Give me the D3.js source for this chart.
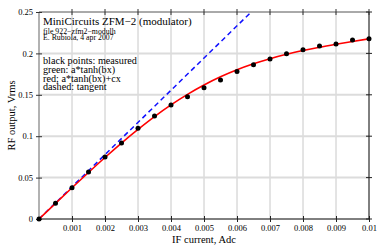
<!DOCTYPE html>
<html>
<head>
<meta charset="utf-8">
<script src="https://cdn.jsdelivr.net/npm/d3@7"></script>
<style>
  body { margin: 0; background: #fff; }
  text { font-family: "Liberation Serif", "DejaVu Serif", serif; fill: #000; }
</style>
</head>
<body>
<div class="chart"></div>
<script>
// measured points (IF current in A, RF output in Vrms)
var currentA = [0, 0.0005, 0.001, 0.0015, 0.002, 0.0025, 0.003, 0.0035, 0.004, 0.0045, 0.005,
  0.0055, 0.006, 0.0065, 0.007, 0.0075, 0.008, 0.0085, 0.009, 0.0095, 0.01];
var measured = [0, 0.019, 0.0378, 0.0568, 0.0749, 0.0918, 0.1095, 0.1244, 0.1377, 0.1477, 0.1586,
  0.1679, 0.1781, 0.1864, 0.1932, 0.1997, 0.2045, 0.2089, 0.2113, 0.2162, 0.2178];
// red fitted curve
var fitRed = [0, 0.0189, 0.0377, 0.0562, 0.0743, 0.0917, 0.1082, 0.1237, 0.1378, 0.1505, 0.1618,
  0.1717, 0.1802, 0.1874, 0.1936, 0.1989, 0.2034, 0.2074, 0.2110, 0.2144, 0.2176];
// dashed tangent at origin
var tangentX = [0, 0.00643];
var tangentY = [0, 0.25];

var xTicks = [0.001, 0.002, 0.003, 0.004, 0.005, 0.006, 0.007, 0.008, 0.009, 0.01];
var xTickLabels = ["0.001", "0.002", "0.003", "0.004", "0.005", "0.006", "0.007", "0.008", "0.009", "0.01"];
var yTicks = [0, 0.05, 0.1, 0.15, 0.2, 0.25];
var yTickLabels = ["0", "0.05", "0.1", "0.15", "0.2", "0.25"];

var titleLines = ["MiniCircuits ZFM\u22122 (modulator)", "file 922\u2212zfm2\u2212modulh", "E. Rubiola, 4 apr 2007"];
var noteLines = ["black points: measured", "green: a*tanh(bx)", "red; a*tanh(bx)+cx", "dashed: tangent"];

var svgWidth = 378;
var svgHeight = 252;
var margin = { top: 12, right: 9, bottom: 33, left: 39 };
var width = svgWidth - margin.left - margin.right;
var height = svgHeight - margin.top - margin.bottom;

var svg = d3.select(".chart").append("svg")
  .attr("width", svgWidth)
  .attr("height", svgHeight);

var chartGroup = svg.append("g")
  .attr("transform", `translate(${margin.left}, ${margin.top})`);

var x = d3.scaleLinear().domain([0, 0.01]).range([0, width]);
var y = d3.scaleLinear().domain([0, 0.25]).range([height, 0]);

// grid
chartGroup.selectAll(".vgrid").data(xTicks.slice(0, -1)).enter().append("line")
  .attr("x1", d => x(d)).attr("x2", d => x(d))
  .attr("y1", 0).attr("y2", height)
  .attr("stroke", "#c8c8c8").attr("stroke-width", 1);
chartGroup.selectAll(".hgrid").data(yTicks.slice(1, -1)).enter().append("line")
  .attr("x1", 0).attr("x2", width)
  .attr("y1", d => y(d)).attr("y2", d => y(d))
  .attr("stroke", "#dcdcdc").attr("stroke-width", 2);

// frame
chartGroup.append("line").attr("x1", 0).attr("x2", width).attr("y1", 0).attr("y2", 0)
  .attr("stroke", "#555").attr("stroke-width", 1);
chartGroup.append("line").attr("x1", 0).attr("x2", 0).attr("y1", 0).attr("y2", height)
  .attr("stroke", "#999").attr("stroke-width", 1.5);
chartGroup.append("line").attr("x1", 0).attr("x2", width).attr("y1", height).attr("y2", height)
  .attr("stroke", "#000").attr("stroke-width", 1);
chartGroup.append("line").attr("x1", width).attr("x2", width).attr("y1", 0).attr("y2", height)
  .attr("stroke", "#000").attr("stroke-width", 1);

// ticks on all four sides
var bottomAxis = d3.axisBottom(x).tickValues(xTicks)
  .tickFormat((d, i) => xTickLabels[i]).tickSizeInner(3).tickSizeOuter(0).tickPadding(3);
var bAxis = chartGroup.append("g").attr("transform", `translate(0, ${height})`).call(bottomAxis);
bAxis.select(".domain").remove();
bAxis.selectAll(".tick line").attr("y1", -3).attr("stroke", "#222");
bAxis.selectAll("text").style("font-size", "8.5px").style("font-family", "Liberation Serif, serif");

chartGroup.selectAll(".ttick").data(xTicks).enter().append("line")
  .attr("x1", d => x(d)).attr("x2", d => x(d)).attr("y1", -3).attr("y2", 3)
  .attr("stroke", "#333");

var leftAxis = d3.axisLeft(y).tickValues(yTicks)
  .tickFormat((d, i) => yTickLabels[i]).tickSizeInner(3).tickSizeOuter(0).tickPadding(3);
var lAxis = chartGroup.append("g").call(leftAxis);
lAxis.select(".domain").remove();
lAxis.selectAll(".tick line").attr("x1", 3).attr("stroke", "#333");
lAxis.selectAll("text").style("font-size", "8.5px").style("font-family", "Liberation Serif, serif");

chartGroup.selectAll(".rtick").data(yTicks).enter().append("line")
  .attr("x1", width - 3).attr("x2", width + 3).attr("y1", d => y(d)).attr("y2", d => y(d))
  .attr("stroke", "#222");

// curves
svg.append("defs").append("clipPath").attr("id", "plotclip")
  .append("rect").attr("x", 0).attr("y", 0).attr("width", width).attr("height", height);

var plot = chartGroup.append("g").attr("clip-path", "url(#plotclip)");

var fitLine = d3.line()
  .x((d, i) => x(currentA[i]))
  .y(d => y(d))
  .curve(d3.curveMonotoneX);

plot.append("path").datum(tangentY)
  .attr("d", d3.line().x((d, i) => x(tangentX[i])).y(d => y(d)))
  .attr("fill", "none").attr("stroke", "#1010ff")
  .attr("stroke-width", 1.5).attr("stroke-dasharray", "5,3.5");

plot.append("path").datum(fitRed)
  .attr("d", fitLine).attr("fill", "none")
  .attr("stroke", "#ff0000").attr("stroke-width", 1.6);

chartGroup.selectAll(".pt").data(measured).enter().append("circle")
  .attr("cx", (d, i) => x(currentA[i]))
  .attr("cy", d => y(d))
  .attr("r", 2.5)
  .attr("fill", "#000");

// annotations
var notes = chartGroup.append("g");
titleLines.forEach(function(t, i) {
  notes.append("text")
    .attr("x", 4).attr("y", [12.8, 21.5, 28][i])
    .style("font-size", i === 0 ? "11px" : "7.8px")
    .text(t);
});
noteLines.forEach(function(t, i) {
  notes.append("text")
    .attr("x", 4).attr("y", 52 + i * 8.8)
    .style("font-size", "10.2px")
    .text(t);
});

// axis titles
svg.append("text")
  .attr("x", margin.left + width / 2).attr("y", 243)
  .attr("text-anchor", "middle")
  .style("font-size", "10.5px")
  .text("IF current, Adc");

svg.append("text")
  .attr("transform", "rotate(-90)")
  .attr("x", -(margin.top + height / 2)).attr("y", 15)
  .attr("text-anchor", "middle")
  .style("font-size", "10.5px")
  .text("RF output, Vrms");
</script>
</body>
</html>
